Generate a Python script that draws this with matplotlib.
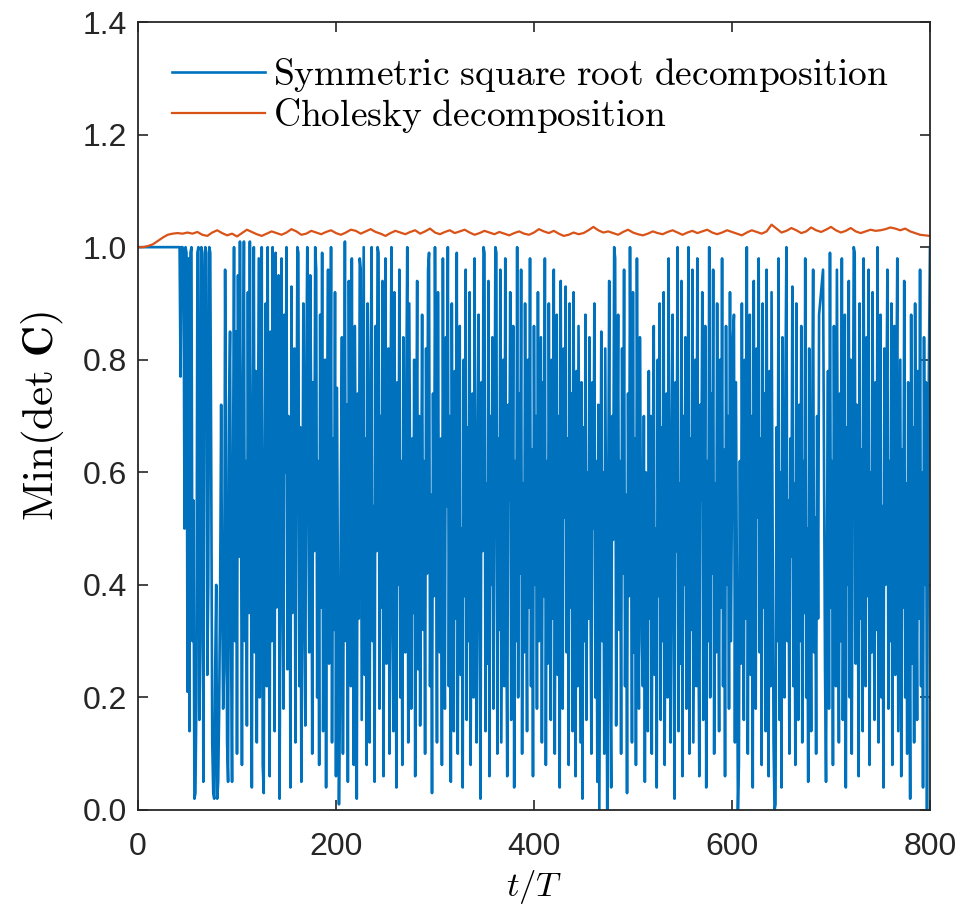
import numpy as np
import matplotlib.pyplot as plt

sym_det = [
    1.0, 1.0, 1.0, 1.0, 1.0, 1.0, 1.0, 1.0, 1.0, 1.0, 1.0, 1.0, 1.0, 1.0, 1.0, 1.0, 1.0, 1.0, 1.0, 1.0,
    1.0, 1.0, 1.0, 1.0, 1.0, 1.0, 1.0, 1.0, 1.0, 1.0, 1.0, 1.0, 1.0, 1.0, 1.0, 1.0, 1.0, 1.0, 1.0, 1.0,
    1.0, 1.0, 1.0, 0.77, 1.0, 1.0, 0.99, 0.50, 1.0, 0.99, 0.21, 0.98, 0.14, 0.99, 1.0, 0.30, 0.55, 0.02, 0.03, 0.20,
    0.99, 1.0, 0.16, 0.30, 1.0, 0.99, 0.05, 0.88, 1.0, 0.99, 0.24, 0.40, 1.0, 0.99, 0.60, 0.12, 0.03, 0.02, 0.25, 0.40,
    0.02, 0.05, 0.18, 0.40, 0.72, 0.38, 0.18, 0.25, 0.96, 0.60, 0.12, 0.05, 0.72, 0.85, 0.30, 0.05, 0.60, 1.0, 0.30, 0.85,
    0.10, 0.95, 0.45, 1.01, 0.58, 0.08, 0.70, 1.01, 0.30, 0.62, 0.15, 0.92, 0.35, 1.01, 0.50, 0.04, 0.65, 1.0, 0.28, 0.78,
    0.12, 0.55, 0.98, 0.20, 0.48, 1.0, 0.08, 0.03, 0.62, 0.90, 0.22, 1.0, 0.40, 0.06, 0.85, 0.30, 1.0, 0.50, 0.14, 0.99,
    0.36, 0.72, 0.95, 0.02, 0.45, 0.98, 0.45, 0.18, 0.88, 0.60, 1.0, 0.25, 0.70, 0.64, 0.04, 0.93, 0.35, 0.50, 0.82, 0.12,
    0.55, 1.0, 0.99, 0.22, 0.68, 0.05, 0.40, 0.90, 0.40, 0.15, 0.78, 1.0, 0.58, 0.28, 0.95, 0.70, 0.10, 0.76, 0.46, 1.0,
    0.96, 0.20, 0.62, 0.08, 0.88, 0.36, 0.99, 0.14, 0.52, 0.80, 0.04, 0.70, 0.96, 0.26, 0.44, 1.0, 0.12, 0.66, 0.32, 0.92,
    0.06, 0.75, 0.38, 0.01, 0.18, 0.58, 0.84, 0.10, 0.46, 1.01, 0.30, 0.72, 0.05, 0.94, 0.50, 0.22, 0.98, 0.40, 0.08, 0.86,
    0.60, 0.02, 0.74, 0.34, 0.98, 0.96, 0.16, 0.56, 1.0, 0.24, 0.66, 0.08, 0.90, 0.42, 0.12, 0.78, 1.0, 0.30, 0.54, 0.05,
    0.86, 0.46, 1.0, 0.99, 0.18, 0.70, 0.36, 0.94, 0.06, 0.60, 0.98, 0.26, 0.48, 0.82, 0.10, 0.68, 1.0, 0.32, 0.14, 0.92,
    0.52, 0.04, 0.76, 0.40, 0.96, 0.20, 0.62, 0.08, 0.84, 0.44, 0.28, 0.74, 1.0, 0.12, 0.90, 0.55, 0.18, 0.66, 0.35, 0.80,
    0.06, 0.58, 0.94, 0.25, 0.70, 0.15, 0.48, 0.88, 0.32, 0.62, 0.10, 0.82, 0.42, 0.96, 0.99, 0.22, 0.56, 0.03, 0.74, 0.38,
    1.0, 0.60, 0.12, 0.92, 0.45, 0.28, 0.66, 0.08, 0.98, 0.40, 0.18, 0.84, 0.54, 1.0, 0.22, 0.70, 0.05, 0.90, 0.46, 0.14,
    0.78, 0.34, 0.99, 0.10, 0.60, 0.86, 0.24, 0.50, 0.04, 0.80, 0.38, 0.96, 0.16, 0.68, 0.30, 0.92, 0.08, 0.56, 0.74, 0.20,
    0.98, 0.42, 0.12, 0.64, 0.88, 0.34, 0.02, 0.76, 0.46, 1.0, 0.99, 0.14, 0.58, 0.26, 0.94, 0.06, 0.70, 0.40, 0.84, 0.18,
    0.52, 1.0, 0.99, 0.10, 0.66, 0.32, 0.96, 0.12, 0.48, 0.80, 0.22, 0.98, 0.36, 0.06, 0.72, 0.55, 0.92, 0.16, 0.44, 0.86,
    0.04, 0.62, 0.30, 1.0, 0.20, 0.74, 0.42, 0.96, 0.10, 0.58, 0.28, 0.90, 0.48, 0.14, 0.80, 0.36, 0.98, 0.22, 0.64, 0.06,
    0.86, 0.40, 0.70, 0.18, 0.92, 0.30, 0.56, 0.84, 0.12, 0.76, 0.38, 0.98, 0.08, 0.62, 0.26, 0.90, 0.46, 0.16, 0.80, 0.34,
    0.96, 0.10, 0.58, 0.88, 0.24, 0.70, 0.04, 0.94, 0.44, 0.18, 0.82, 0.52, 0.93, 0.28, 0.66, 0.08, 0.90, 0.36, 0.74, 0.14,
    0.92, 0.40, 0.06, 0.78, 0.22, 0.86, 0.50, 0.12, 0.76, 0.02, 0.68, 0.30, 0.88, 0.16, 0.60, 0.34, 0.84, 0.42, 0.10, 0.76,
    0.50, 0.90, 0.20, 0.62, 0.05, 0.72, 0.0, 0.45, 0.85, 0.30, 0.60, 0.10, 0.82, 0.42, 0.0, 0.55, 0.94, 0.25, 0.04, 0.70,
    0.48, 1.0, 0.98, 0.15, 0.58, 0.88, 0.32, 0.62, 0.10, 0.82, 0.42, 0.96, 0.22, 0.56, 0.03, 0.74, 0.38, 1.0, 0.60, 0.12,
    0.92, 0.28, 0.66, 0.08, 0.98, 0.40, 0.18, 0.84, 0.54, 0.30, 0.22, 0.70, 0.05, 0.60, 0.46, 0.14, 0.78, 0.34, 0.70, 0.10,
    0.60, 0.86, 0.24, 0.50, 0.04, 0.80, 0.38, 0.90, 0.16, 0.68, 0.30, 0.92, 0.08, 0.56, 0.74, 0.20, 0.98, 0.42, 0.12, 0.64,
    0.88, 0.34, 0.02, 0.76, 0.46, 1.0, 0.14, 0.58, 0.26, 0.94, 0.06, 0.70, 0.40, 0.84, 0.18, 0.52, 1.0, 0.10, 0.66, 0.32,
    0.96, 0.12, 0.48, 0.80, 0.22, 0.98, 0.36, 0.06, 0.72, 0.55, 0.92, 0.16, 0.44, 0.86, 0.04, 0.62, 0.30, 1.0, 0.20, 0.74,
    0.42, 0.96, 0.10, 0.58, 0.28, 0.90, 0.48, 0.14, 0.80, 0.36, 0.98, 0.22, 0.64, 0.06, 0.86, 0.40, 0.70, 0.18, 0.92, 0.30,
    0.56, 0.84, 0.88, 0.12, 0.76, 0.38, 0.0, 0.08, 0.62, 0.26, 0.90, 0.46, 0.16, 0.80, 0.34, 1.0, 0.10, 0.58, 0.88, 0.24,
    0.70, 0.04, 0.94, 0.44, 0.18, 0.82, 0.52, 0.98, 0.28, 0.66, 0.08, 0.90, 0.36, 0.74, 0.14, 0.96, 0.40, 0.06, 0.78, 0.22,
    0.92, 0.50, 0.12, 0.0, 0.01, 0.68, 0.30, 0.98, 0.16, 0.60, 0.04, 0.84, 0.42, 0.20, 0.76, 1.0, 0.30, 0.55, 0.10, 0.66,
    0.45, 0.93, 0.22, 0.58, 0.08, 0.90, 0.40, 0.16, 0.72, 0.30, 0.86, 0.12, 0.62, 0.35, 0.98, 0.20, 0.50, 0.05, 0.82, 0.44,
    0.14, 0.66, 0.96, 0.28, 0.52, 0.10, 0.70, 0.34, 0.88, 0.90, 0.92, 0.94, 0.96, 0.60, 0.25, 0.05, 0.48, 0.78, 0.18, 0.99,
    0.36, 0.62, 0.08, 0.86, 0.42, 0.22, 0.96, 0.54, 0.12, 0.74, 0.30, 0.98, 0.16, 0.58, 0.88, 0.04, 0.68, 0.40, 0.94, 0.20,
    0.80, 0.10, 0.56, 1.0, 0.99, 0.26, 0.72, 0.46, 0.06, 0.90, 0.34, 0.64, 0.14, 0.98, 0.50, 0.22, 0.84, 0.38, 0.96, 0.08,
    0.60, 0.28, 0.92, 0.44, 0.16, 0.76, 0.32, 1.0, 0.12, 0.66, 0.88, 0.20, 0.54, 0.04, 0.82, 0.40, 0.70, 0.96, 0.18, 0.62,
    0.30, 0.90, 0.08, 0.52, 0.86, 0.24, 0.72, 0.98, 0.14, 0.46, 0.80, 0.06, 0.64, 0.36, 0.94, 0.20, 0.58, 0.10, 0.76, 0.42,
    0.02, 0.88, 0.26, 0.68, 0.12, 0.90, 0.48, 0.16, 0.78, 0.34, 0.96, 0.22, 0.60, 0.04, 0.84, 0.40, 0.76, 0.00, 0.55, 0.80,
    1.0,
]

chol_det = [
    1.000, 1.000, 1.002, 1.005, 1.011, 1.017, 1.022, 1.024, 1.025, 1.024,
    1.026, 1.024, 1.027, 1.022, 1.020, 1.026, 1.030, 1.025, 1.021, 1.024,
    1.019, 1.025, 1.031, 1.027, 1.023, 1.020, 1.024, 1.028, 1.025, 1.022,
    1.026, 1.032, 1.028, 1.022, 1.024, 1.029, 1.026, 1.023, 1.027, 1.030,
    1.025, 1.022, 1.026, 1.031, 1.029, 1.024, 1.028, 1.032, 1.027, 1.024,
    1.020, 1.025, 1.029, 1.026, 1.023, 1.027, 1.030, 1.024, 1.028, 1.033,
    1.026, 1.023, 1.027, 1.030, 1.025, 1.028, 1.031, 1.026, 1.022, 1.025,
    1.029, 1.026, 1.023, 1.027, 1.024, 1.021, 1.025, 1.028, 1.024, 1.022,
    1.026, 1.032, 1.028, 1.025, 1.029, 1.024, 1.020, 1.022, 1.026, 1.023,
    1.025, 1.030, 1.036, 1.030, 1.026, 1.028, 1.025, 1.022, 1.027, 1.031,
    1.026, 1.023, 1.021, 1.024, 1.028, 1.025, 1.023, 1.027, 1.030, 1.026,
    1.022, 1.026, 1.029, 1.025, 1.028, 1.031, 1.026, 1.023, 1.026, 1.030,
    1.027, 1.024, 1.021, 1.026, 1.030, 1.027, 1.024, 1.028, 1.040, 1.033,
    1.026, 1.029, 1.034, 1.030, 1.025, 1.028, 1.035, 1.030, 1.027, 1.031,
    1.036, 1.030, 1.026, 1.029, 1.034, 1.028, 1.025, 1.028, 1.031, 1.029,
    1.030, 1.032, 1.035, 1.033, 1.030, 1.033, 1.028, 1.025, 1.022, 1.021,
    1.020,
]

t_sym = np.linspace(0, 800, len(sym_det))
t_chol = np.linspace(0, 800, len(chol_det))

xticks = [0, 200, 400, 600, 800]
yticks = [0.0, 0.2, 0.4, 0.6, 0.8, 1.0, 1.2, 1.4]

plt.rcParams['mathtext.fontset'] = 'cm'
plt.rcParams['font.family'] = ['Liberation Sans', 'DejaVu Sans']

fig = plt.figure(figsize=(9.61, 9.14), dpi=100)
ax = fig.add_axes([0.1436, 0.1138, 0.8241, 0.8621])

ax.plot(t_sym, sym_det, color='#0072BD', lw=1.9,
        label=r'$\mathrm{Symmetric\ square\ root\ decomposition}$')
ax.plot(t_chol, chol_det, color='#D95319', lw=1.6,
        label=r'$\mathrm{Cholesky\ decomposition}$')

ax.set_xlim(0, 800)
ax.set_ylim(0, 1.4)
ax.set_xticks(xticks)
ax.set_yticks(yticks)
ax.set_yticklabels(['%.1f' % v for v in yticks])
ax.tick_params(direction='in', length=7, width=1.2, labelsize=23, colors='#262626',
               top=True, right=True, pad=8)
ax.tick_params(axis='x', pad=16)
for s in ax.spines.values():
    s.set_linewidth(1.3)
    s.set_color('#262626')

ax.set_xlabel(r'$t/T$', fontsize=25, labelpad=4)
ax.set_ylabel(r'$\mathrm{Min(det}\ \mathbf{C})$', fontsize=31, labelpad=12)

ax.legend(loc='upper left', frameon=False, fontsize=27, handlelength=2.5,
          handletextpad=0.2, borderaxespad=0.5, borderpad=0.4, labelspacing=0.05)

fig.savefig('out.png', dpi=100)
